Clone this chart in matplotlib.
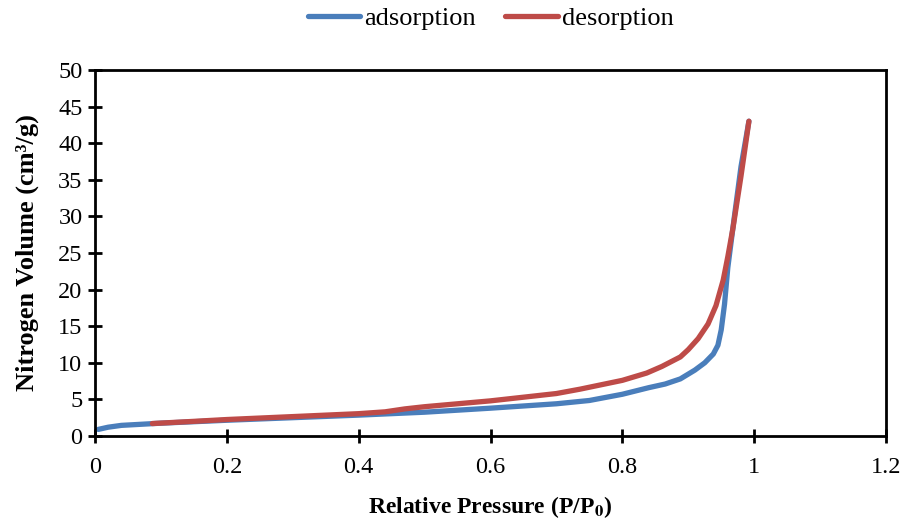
import matplotlib
matplotlib.use("Agg")
import matplotlib.pyplot as plt

plt.rcParams['font.family'] = ['Liberation Serif', 'DejaVu Serif']
plt.rcParams['mathtext.fontset'] = 'stix'

# Nitrogen isotherm: relative pressure vs adsorbed volume (cm3/g)
ads_p = [0.005, 0.02, 0.04, 0.07, 0.1, 0.15, 0.2, 0.3, 0.4, 0.5, 0.6, 0.7, 0.75,
         0.8, 0.84, 0.865, 0.888, 0.91, 0.925, 0.938, 0.945, 0.95, 0.955, 0.96,
         0.97, 0.98, 0.992]
ads_v = [0.9, 1.2, 1.45, 1.6, 1.75, 1.95, 2.15, 2.5, 2.85, 3.25, 3.8, 4.4, 4.85,
         5.7, 6.6, 7.1, 7.8, 9.0, 10.0, 11.2, 12.4, 14.5, 18.0, 23.0,
         30.0, 36.8, 43.0]

des_p = [0.087, 0.15, 0.2, 0.3, 0.4, 0.44, 0.47, 0.5, 0.6, 0.7, 0.736, 0.8,
         0.837, 0.86, 0.888, 0.9, 0.915, 0.93, 0.942, 0.953, 0.96, 0.968,
         0.98, 0.992]
des_v = [1.7, 2.0, 2.25, 2.65, 3.05, 3.3, 3.7, 4.0, 4.8, 5.8, 6.4, 7.6,
         8.6, 9.5, 10.8, 11.8, 13.3, 15.3, 17.8, 21.3, 24.5, 28.5,
         35.5, 43.0]

x_ticks = [0, 0.2, 0.4, 0.6, 0.8, 1, 1.2]
x_labels = ['0', '0.2', '0.4', '0.6', '0.8', '1', '1.2']
y_ticks = list(range(0, 51, 5))

fig = plt.figure(figsize=(9.08, 5.27), dpi=100)
ax = fig.add_axes([0.1046, 0.1727, 0.8712, 0.6945])

ax.plot(ads_p, ads_v, color='#4A7EBB', lw=3.8, solid_capstyle='round',
        solid_joinstyle='round', label='adsorption')
ax.plot(des_p, des_v, color='#BE4B48', lw=3.8, solid_capstyle='round',
        solid_joinstyle='round', label='desorption')

ax.set_xlim(0, 1.2)
ax.set_ylim(0, 50)
ax.set_xticks(x_ticks)
ax.set_xticklabels(x_labels)
ax.set_yticks(y_ticks)

for s in ax.spines.values():
    s.set_linewidth(2)
    s.set_color('black')

ax.tick_params(axis='both', direction='inout', length=10, width=2, labelsize=17.5, colors='black')
ax.tick_params(axis='x', pad=10)
ax.tick_params(axis='y', pad=4)

ax.set_xlabel('Relative Pressure (P/P$_\\mathbf{0}$)', fontsize=17, fontweight='bold', labelpad=12)
ax.set_ylabel('Nitrogen Volume (cm³/g)', fontsize=19, fontweight='bold', labelpad=14)

ax.legend(loc='lower center', bbox_to_anchor=(0.5, 1.08), ncol=2, frameon=False,
          fontsize=19, handlelength=2.0, handletextpad=0.15, columnspacing=1.1,
          borderaxespad=0)

fig.savefig('out.png', dpi=100)
